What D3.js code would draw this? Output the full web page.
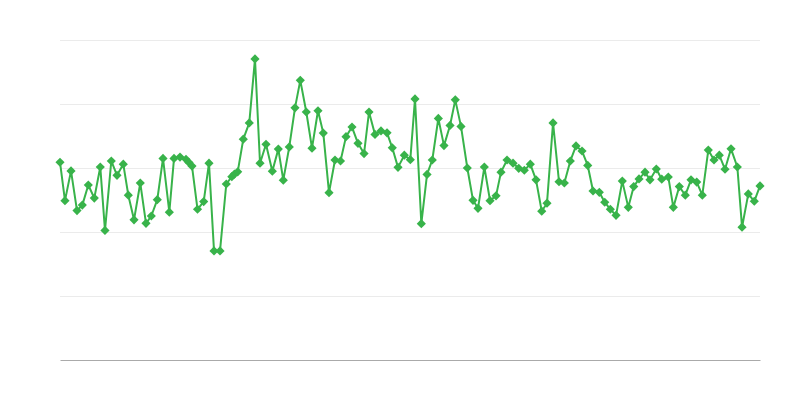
<!DOCTYPE html>
<html>
<head>
<meta charset="utf-8">
<script src="https://cdn.jsdelivr.net/npm/d3@7"></script>
<style>
  html, body { margin: 0; padding: 0; background: #fff; }
  svg { display: block; font-family: "Open Sans", sans-serif; }
</style>
</head>
<body>
<svg id="chart" width="800" height="400"></svg>
<script>
// x positions (time units)
const xs = [0,0.88,1.95,3.01,3.95,5.01,6.07,7.13,7.96,9.08,10.09,11.2,12.09,13.1,14.21,15.22,16.16,17.22,18.23,19.35,
  20.18,21.24,22.3,22.83,23.36,24.34,25.43,26.37,27.26,28.32,29.43,30.41,30.88,31.45,32.44,33.5,34.51,35.4,36.46,37.58,
  38.64,39.52,40.58,41.59,42.53,43.59,44.6,45.66,46.6,47.61,48.67,49.65,50.62,51.68,52.74,53.81,54.69,55.75,56.81,57.88,
  58.81,59.82,60.94,62,62.83,63.95,64.96,65.89,66.96,67.96,69.03,69.96,70.97,72.09,73.1,73.98,75.1,76.11,77.17,78.05,
  79.12,80.18,81.19,82.18,83.24,84.25,85.26,86.19,87.26,88.32,89.26,90.32,91.33,92.39,93.4,94.34,95.45,96.41,97.4,98.41,
  99.52,100.58,101.54,102.48,103.54,104.42,105.54,106.5,107.66,108.55,109.61,110.67,111.68,112.69,113.68,114.74,115.75,116.69,117.7,118.76,
  119.88,120.71,121.82,122.88,123.89];
// series values
const values = [61.8,49.8,59.1,46.7,48.4,54.7,50.6,60.3,40.5,62.2,57.7,61.2,51.5,43.8,55.3,42.7,45,50.1,63,46.2,
  63,63.4,62.7,61.7,60.6,47.1,49.5,61.5,34.1,34.1,55,57.3,58.1,58.8,69,74.1,94.1,61.5,67.4,59,
  65.9,56.2,66.6,78.8,87.4,77.5,66.2,77.9,70.9,52.3,62.5,62.2,69.8,72.8,67.7,64.5,77.5,70.5,71.6,71,
  66.3,60.2,64,62.6,81.6,42.6,58,62.5,75.5,67,73.3,81.3,73,60,49.9,47.4,60.3,49.8,51.3,58.7,
  62.5,61.5,59.9,59.3,61.2,56.3,46.5,49,74.1,55.7,55.3,62.2,66.9,65.3,60.8,52.8,52.4,49.3,47.1,45.2,
  55.9,47.7,54.2,56.6,58.7,56.3,59.7,56.5,57.2,47.7,54.2,51.5,56.3,55.6,51.5,65.6,62.5,64,59.6,66,
  60.3,41.5,51.9,49.6,54.4];
const yTicks = [0, 20, 40, 60, 80, 100];

const data = xs.map((x, i) => ({ x, y: values[i] }));

const svg = d3.select("#chart");
const margin = { top: 40, right: 40, bottom: 40, left: 60 };
const W = 800 - margin.left - margin.right;
const H = 400 - margin.top - margin.bottom;
const g = svg.append("g").attr("transform", `translate(${margin.left},${margin.top})`);

const x = d3.scaleLinear().domain([xs[0], xs[xs.length - 1]]).range([0, W]);
const y = d3.scaleLinear().domain([0, 100]).range([H, 0]);

// gridlines
const grid = g.append("g").call(d3.axisLeft(y).tickValues(yTicks).tickSize(-W).tickFormat(""));
grid.select(".domain").remove();
grid.selectAll(".tick line").attr("stroke", "#ebebeb").attr("stroke-width", 1);
grid.selectAll(".tick").filter(d => d === 0).remove();

// baseline
const xAxis = g.append("g").attr("transform", `translate(0,${H})`)
  .call(d3.axisBottom(x).tickValues([]).tickSize(0).tickFormat(""));
xAxis.select(".domain").attr("stroke", "#aaaaaa").attr("stroke-width", 1);

const color = "#38b34a";
g.append("path").datum(data)
  .attr("fill", "none").attr("stroke", color).attr("stroke-width", 2)
  .attr("stroke-linejoin", "round")
  .attr("d", d3.line().x(d => x(d.x)).y(d => y(d.y)));

const sym = d3.symbol().type(d3.symbolSquare).size(42);
g.selectAll(".pt").data(data).join("path")
  .attr("class", "pt")
  .attr("d", sym)
  .attr("fill", color)
  .attr("transform", d => `translate(${x(d.x)},${y(d.y)}) rotate(45)`);
</script>
</body>
</html>
